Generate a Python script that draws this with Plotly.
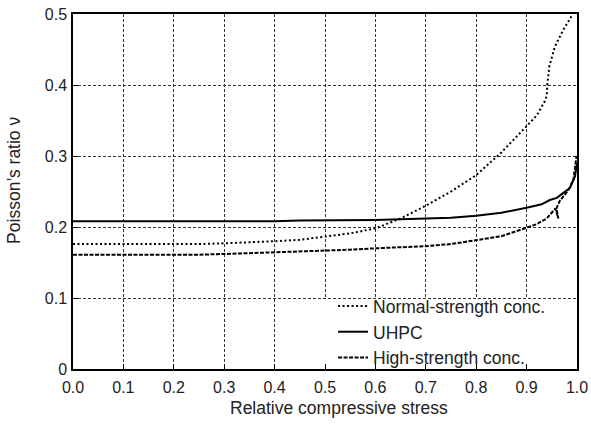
import plotly.graph_objects as go

# ---- data ----
normal_x = [0, 0.05, 0.1, 0.15, 0.2, 0.25, 0.3, 0.35, 0.4, 0.45, 0.5, 0.55, 0.6, 0.65,
            0.7, 0.75, 0.8, 0.85, 0.9, 0.92, 0.936, 0.94, 0.941, 0.945, 0.956, 0.973, 0.991]
normal_y = [0.176, 0.176, 0.175, 0.176, 0.176, 0.176, 0.177, 0.178, 0.180, 0.182, 0.186,
            0.191, 0.198, 0.212, 0.230, 0.250, 0.273, 0.305, 0.342, 0.357, 0.377, 0.385,
            0.400, 0.426, 0.454, 0.478, 0.499]

uhpc_x = [0, 0.05, 0.1, 0.15, 0.2, 0.25, 0.3, 0.35, 0.4, 0.45, 0.5, 0.55, 0.6, 0.65, 0.7,
          0.75, 0.8, 0.85, 0.9, 0.93, 0.946, 0.96, 0.973, 0.986, 0.996, 1.0]
uhpc_y = [0.208, 0.208, 0.207, 0.208, 0.208, 0.207, 0.208, 0.208, 0.208, 0.209, 0.209,
          0.209, 0.210, 0.211, 0.212, 0.213, 0.216, 0.220, 0.227, 0.232, 0.238, 0.241,
          0.248, 0.255, 0.271, 0.290]

high_x = [0, 0.05, 0.1, 0.15, 0.2, 0.25, 0.3, 0.35, 0.4, 0.45, 0.5, 0.55, 0.6, 0.65, 0.7,
          0.75, 0.78, 0.8, 0.85, 0.9, 0.92, 0.94, 0.953, 0.957, 0.963, 0.959, 0.966, 0.975,
          0.983, 0.993, 0.999]
high_y = [0.161, 0.161, 0.160, 0.161, 0.161, 0.161, 0.162, 0.163, 0.164, 0.165, 0.166,
          0.168, 0.170, 0.171, 0.173, 0.176, 0.179, 0.181, 0.187, 0.199, 0.204, 0.212,
          0.223, 0.226, 0.212, 0.226, 0.237, 0.245, 0.252, 0.267, 0.300]

series_names = ["Normal-strength conc.", "UHPC", "High-strength conc."]

x_ticks = [0.0, 0.1, 0.2, 0.3, 0.4, 0.5, 0.6, 0.7, 0.8, 0.9, 1.0]
x_tick_text = ["0.0", "0.1", "0.2", "0.3", "0.4", "0.5", "0.6", "0.7", "0.8", "0.9", "1.0"]
y_ticks = [0, 0.1, 0.2, 0.3, 0.4, 0.5]
y_tick_text = ["0", "0.1", "0.2", "0.3", "0.4", "0.5"]

x_title = "Relative compressive stress"
y_title = "Poisson’s ratio ν"

FONT = "Liberation Sans, Arial, Helvetica, sans-serif"
TXT = "#222222"

fig = go.Figure()
fig.add_trace(go.Scatter(x=normal_x, y=normal_y, mode="lines", name=series_names[0],
                         line=dict(color="black", width=2, dash="2px,2.5px")))
fig.add_trace(go.Scatter(x=uhpc_x, y=uhpc_y, mode="lines", name=series_names[1],
                         line=dict(color="black", width=2)))
fig.add_trace(go.Scatter(x=high_x, y=high_y, mode="lines", name=series_names[2],
                         line=dict(color="black", width=2, dash="4px,1.5px")))

axis_common = dict(
    showline=True, linecolor="black", linewidth=1.5, mirror=True,
    showgrid=True, gridcolor="#333333", gridwidth=1, griddash="3px,2px",
    zeroline=False, ticks="inside", ticklen=5, tickcolor="black", tickwidth=1,
    tickfont=dict(family=FONT, size=16, color=TXT), automargin=False,
    ticklabeloverflow="allow",
)

fig.update_xaxes(range=[0, 1], tickmode="array", tickvals=x_ticks, ticktext=x_tick_text,
                 ticklabelstandoff=3, **axis_common)
fig.update_yaxes(range=[0, 0.5], tickmode="array", tickvals=y_ticks, ticktext=y_tick_text,
                 ticklabelstandoff=1, **axis_common)

# white panel behind the legend, covering the grid there
fig.add_shape(type="rect", xref="x", yref="y", x0=0.452, x1=1.0, y0=0.0, y1=0.0985,
              fillcolor="white", line=dict(width=0), layer="between")

fig.update_layout(
    width=591, height=426,
    margin=dict(l=73, r=14, t=14, b=57, autoexpand=False),
    paper_bgcolor="white", plot_bgcolor="white",
    font=dict(family=FONT, color=TXT),
    showlegend=True,
    legend=dict(x=0.516, y=-0.02, xanchor="left", yanchor="bottom",
                bgcolor="rgba(0,0,0,0)", borderwidth=0,
                font=dict(family=FONT, size=17.5, color=TXT),
                tracegroupgap=0, itemwidth=30),
    annotations=[
        dict(text=x_title, xref="paper", yref="paper", x=0.528, y=-0.11,
             xanchor="center", yanchor="middle", showarrow=False,
             font=dict(family=FONT, size=17.5, color=TXT)),
        dict(text=y_title, xref="paper", yref="paper", x=-0.117, y=0.53,
             xanchor="center", yanchor="middle", showarrow=False, textangle=-90,
             font=dict(family=FONT, size=17.5, color=TXT)),
    ],
)

# remove the browser's default page margin so the 591x426 figure fills the window
fig.write_html("out.html",
               config={"displayModeBar": False},
               post_script="document.body.style.margin='0px';document.body.style.overflow='hidden';")
